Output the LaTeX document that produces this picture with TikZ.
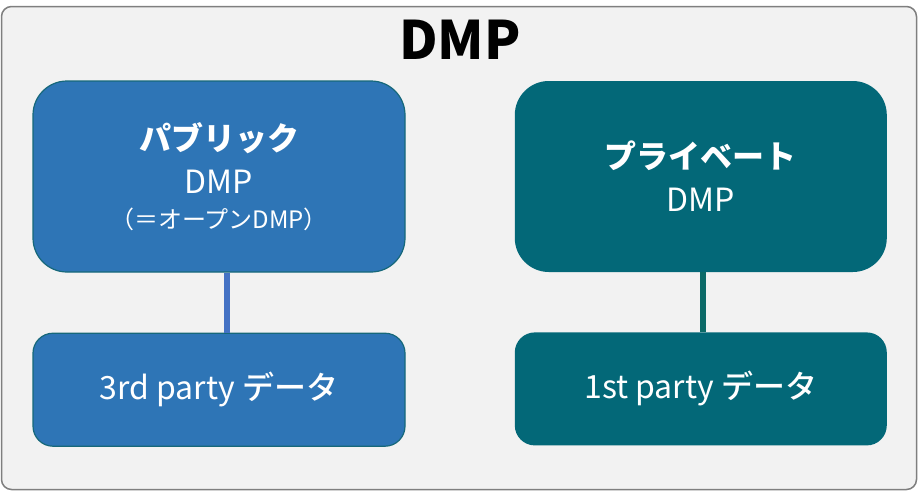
\documentclass[tikz,border=0pt]{standalone}
\usepackage{fontspec}
\setmainfont{Noto Sans CJK JP}
\newfontfamily\jpmed{Noto Sans CJK JP Medium}
\usetikzlibrary{positioning}
\definecolor{dmpgray}{HTML}{F2F2F2}
\definecolor{dmpframe}{HTML}{7F7F7F}
\definecolor{pubblue}{HTML}{2E75B6}
\definecolor{pubedge}{HTML}{16687A}
\definecolor{publine}{HTML}{4472C4}
\definecolor{privteal}{HTML}{036878}
\definecolor{privline}{HTML}{0B6A68}
\begin{document}
\begin{tikzpicture}[x=1pt, y=-1pt, node distance=60pt,
  dmpbox/.style={rectangle, rounded corners=34pt, minimum width=372pt,
                 minimum height=191pt, inner sep=0pt, align=center, text=white,
                 font=\fontsize{32}{43}\selectfont},
  databox/.style={rectangle, rounded corners=20pt, minimum width=372pt,
                  minimum height=113pt, inner sep=0pt, text=white,
                  font=\fontsize{32}{38}\selectfont},
  link/.style={line width=6pt}]
  \useasboundingbox (0,0) rectangle (919,491);
  \node[draw=dmpframe, fill=dmpgray, line width=1.5pt, rounded corners=10pt,
        minimum width=915pt, minimum height=483pt, inner sep=0pt] (frame) at (459,248) {};
  \node[font=\bfseries\fontsize{53}{53}\selectfont] (title) at (460,40) {DMP};
  \node[dmpbox, fill=pubblue, draw=pubedge, line width=1.2pt] (pubdmp) at (219,176.5)
       {{\bfseries パブリック}\\DMP\\[-8pt]{\fontsize{24}{28}\selectfont （＝オープンDMP）}};
  \node[dmpbox, fill=privteal, right=109pt of pubdmp] (privdmp)
       {{\bfseries プライベート}\\DMP};
  \node[databox, fill=pubblue, draw=pubedge, line width=1.2pt, below=of pubdmp] (thirddata)
       {3rd party {\jpmed データ}};
  \node[databox, fill=privteal, below=of privdmp] (firstdata)
       {1st party {\jpmed データ}};
  \draw[link, publine] ([xshift=8pt]pubdmp.south) -- ([xshift=8pt]thirddata.north);
  \draw[link, privline] ([xshift=2pt]privdmp.south) -- ([xshift=2pt]firstdata.north);
\end{tikzpicture}
\end{document}
